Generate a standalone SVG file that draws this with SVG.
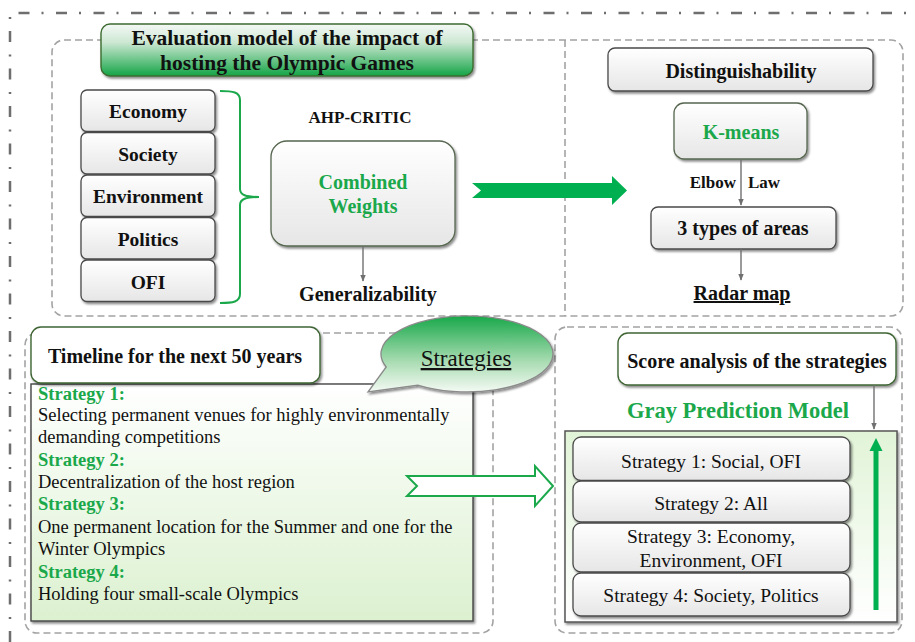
<svg xmlns="http://www.w3.org/2000/svg" width="915" height="642" viewBox="0 0 915 642">
<style>
.t{font-family:"Liberation Serif","Times New Roman",serif;font-weight:bold;font-size:20px;text-anchor:middle;fill:#111}
.r{font-family:"Liberation Serif","Times New Roman",serif;font-size:18.5px;fill:#111}
.gr{fill:#1aa84b}
.box{fill:url(#gbox);stroke:#4a4a4a;stroke-width:1.3}
.gbx{fill:url(#gbox);stroke:#56664f;stroke-width:1.3}
.wbx{fill:#fff;stroke:#3f6534;stroke-width:1.4}
.dash{fill:none;stroke:#a3a3a3;stroke-width:1.6;stroke-dasharray:7 4}
.con{fill:none;stroke:#707070;stroke-width:1.4}
</style>
<defs>
<linearGradient id="gbox" x1="0" y1="0" x2="0" y2="1"><stop offset="0" stop-color="#ffffff"/><stop offset="1" stop-color="#e6e6e6"/></linearGradient>
<linearGradient id="gtitle" x1="0" y1="0" x2="0" y2="1"><stop offset="0" stop-color="#f5f8f6"/><stop offset="0.35" stop-color="#cde8d3"/><stop offset="1" stop-color="#13a446"/></linearGradient>
<linearGradient id="gbub" x1="0" y1="0" x2="0" y2="1"><stop offset="0" stop-color="#18a84a"/><stop offset="0.6" stop-color="#a9dcb2"/><stop offset="1" stop-color="#f4faf4"/></linearGradient>
<linearGradient id="gleft" x1="0" y1="0" x2="0" y2="1"><stop offset="0" stop-color="#ffffff"/><stop offset="1" stop-color="#dcf1d0"/></linearGradient>
<linearGradient id="gright" x1="0" y1="0" x2="0" y2="1"><stop offset="0" stop-color="#e1f4d7"/><stop offset="1" stop-color="#ffffff"/></linearGradient>
<filter id="sh" x="-10%" y="-10%" width="125%" height="140%"><feDropShadow dx="1.5" dy="2" stdDeviation="1.2" flood-color="#000" flood-opacity="0.45"/></filter>
<marker id="ah" viewBox="0 0 10 10" refX="9" refY="5" markerWidth="7" markerHeight="7" markerUnits="userSpaceOnUse" orient="auto"><path d="M0,1 L10,5 L0,9 Z" fill="#707070"/></marker>
</defs>

<g id="frame">
<path d="M10,642 V13 H915" fill="none" stroke="#6e6e6e" stroke-width="2.5" stroke-dasharray="11 12 2 12.5"/>
<rect x="52" y="40" width="851" height="276" rx="12" class="dash"/>
<line x1="565" y1="40" x2="565" y2="316" class="dash"/>
<rect x="25" y="333" width="468" height="300" rx="12" class="dash"/>
<rect x="555" y="327" width="347" height="306" rx="12" class="dash"/>
</g>

<g id="title">
<rect x="101" y="24" width="372" height="52" rx="9" fill="url(#gtitle)" stroke="#3d6b30" stroke-width="1.4" filter="url(#sh)"/>
<text class="t" x="287" y="44.5" style="font-size:21.5px">Evaluation model of the impact of</text>
<text class="t" x="287" y="69.5" style="font-size:21.5px">hosting the Olympic Games</text>
</g>

<g id="factors">
<rect x="81" y="90" width="134" height="41.5" rx="6" class="box" filter="url(#sh)"/>
<text class="t" x="148" y="118" style="font-size:19.5px">Economy</text>
<rect x="81" y="132.5" width="134" height="41.5" rx="6" class="box" filter="url(#sh)"/>
<text class="t" x="148" y="160.5" style="font-size:19.5px">Society</text>
<rect x="81" y="175" width="134" height="41.5" rx="6" class="box" filter="url(#sh)"/>
<text class="t" x="148" y="203" style="font-size:19.5px">Environment</text>
<rect x="81" y="217.5" width="134" height="41.5" rx="6" class="box" filter="url(#sh)"/>
<text class="t" x="148" y="245.5" style="font-size:19.5px">Politics</text>
<rect x="81" y="260" width="134" height="41.5" rx="6" class="box" filter="url(#sh)"/>
<text class="t" x="148" y="289" style="font-size:19.5px">OFI</text>
<path d="M220,91 C233,91 240,92 240,100 L240,189 C240,195 246,197 259,197 C246,197 240,199 240,205 L240,294 C240,302 233,303 220,303" fill="none" stroke="#1aa84b" stroke-width="2"/>
</g>

<g id="weights">
<text class="t" x="360" y="123" style="font-size:17px">AHP-CRITIC</text>
<rect x="271" y="141" width="184" height="105" rx="16" class="gbx" filter="url(#sh)"/>
<text class="t gr" x="363" y="189">Combined</text>
<text class="t gr" x="363" y="213">Weights</text>
<text class="t" x="368" y="301">Generalizability</text>
</g>

<g id="distinguish">
<rect x="608" y="48" width="265" height="43" rx="7" class="box" filter="url(#sh)"/>
<text class="t" x="741" y="78">Distinguishability</text>
<rect x="674" y="103" width="133" height="56" rx="10" class="gbx" filter="url(#sh)"/>
<text class="t gr" x="741" y="139">K-means</text>
<text class="t" x="736" y="188" style="font-size:17px;text-anchor:end">Elbow</text>
<text class="t" x="748" y="188" style="font-size:17px;text-anchor:start">Law</text>
<rect x="651" y="207" width="185" height="42" rx="7" class="box" filter="url(#sh)"/>
<text class="t" x="743" y="235">3 types of areas</text>
<text class="t" x="742" y="300" style="text-decoration:underline">Radar map</text>
</g>

<g id="timeline">
<rect x="31" y="384" width="442" height="237" fill="url(#gleft)" stroke="#444" stroke-width="1.4" filter="url(#sh)"/>
<rect x="31" y="327" width="289" height="56" rx="10" class="wbx" filter="url(#sh)"/>
<text class="t" x="175" y="362.5">Timeline for the next 50 years</text>
<text class="r" x="38" y="400" font-weight="bold" fill="#1aa84b" style="fill:#1aa84b">Strategy 1:</text>
<text class="r" x="38" y="421">Selecting permanent venues for highly environmentally</text>
<text class="r" x="38" y="443">demanding competitions</text>
<text class="r" x="38" y="466" font-weight="bold" style="fill:#1aa84b">Strategy 2:</text>
<text class="r" x="38" y="488">Decentralization of the host region</text>
<text class="r" x="38" y="510" font-weight="bold" style="fill:#1aa84b">Strategy 3:</text>
<text class="r" x="38" y="533">One permanent location for the Summer and one for the</text>
<text class="r" x="38" y="555">Winter Olympics</text>
<text class="r" x="38" y="578" font-weight="bold" style="fill:#1aa84b">Strategy 4:</text>
<text class="r" x="38" y="600">Holding four small-scale Olympics</text>
</g>

<g id="strategies-bubble">
<path d="M417.7,385.1 A86,38 0 1 0 386.2,367 L368,392 Z" fill="url(#gbub)" stroke="#8a8a8a" stroke-width="1.3" filter="url(#sh)"/>
<text class="r" x="466" y="366" style="font-size:23px;text-anchor:middle;text-decoration:underline">Strategies</text>
</g>

<g id="score">
<rect x="618" y="333" width="278" height="52" rx="10" class="wbx" filter="url(#sh)"/>
<text class="t" x="757" y="368">Score analysis of the strategies</text>
<text class="t gr" x="738" y="418" style="font-size:22.5px">Gray Prediction Model</text>
<rect x="565" y="431" width="332" height="191" fill="url(#gright)" stroke="#555" stroke-width="1.5" filter="url(#sh)"/>
<rect x="573" y="437" width="277" height="43.5" rx="8" class="box" filter="url(#sh)"/>
<text class="r" x="711" y="467.5" style="font-size:19.5px;text-anchor:middle">Strategy 1: Social, OFI</text>
<rect x="573" y="481" width="277" height="41" rx="8" class="box" filter="url(#sh)"/>
<text class="r" x="711" y="510" style="font-size:19.5px;text-anchor:middle">Strategy 2: All</text>
<rect x="573" y="523" width="277" height="49" rx="8" class="box" filter="url(#sh)"/>
<text class="r" x="711" y="543" style="font-size:19.5px;text-anchor:middle">Strategy 3: Economy,</text>
<text class="r" x="711" y="567" style="font-size:19.5px;text-anchor:middle">Environment, OFI</text>
<rect x="573" y="573" width="277" height="43" rx="8" class="box" filter="url(#sh)"/>
<text class="r" x="711" y="602" style="font-size:19.5px;text-anchor:middle">Strategy 4: Society, Politics</text>
<line x1="876" y1="610" x2="876" y2="448" stroke="#00b050" stroke-width="5"/>
<polygon points="869.5,451 876,438 882.5,451" fill="#00b050"/>
</g>

<g id="connectors">
<line x1="363" y1="246" x2="363" y2="281" class="con" marker-end="url(#ah)"/>
<line x1="741" y1="159" x2="741" y2="205" class="con" marker-end="url(#ah)"/>
<line x1="741" y1="249" x2="741" y2="280" class="con" marker-end="url(#ah)"/>
<line x1="874" y1="385" x2="874" y2="429" class="con" marker-end="url(#ah)"/>
<polygon points="472,183 612,183 612,176 627,190.5 612,205 612,198 472,198 481,190.5" fill="#00b050"/>
<polygon points="407,476 535,476 535,466 553,486 535,506 535,496 407,496 417,486" fill="#fff" stroke="#1aa84b" stroke-width="2"/>
</g>
</svg>
